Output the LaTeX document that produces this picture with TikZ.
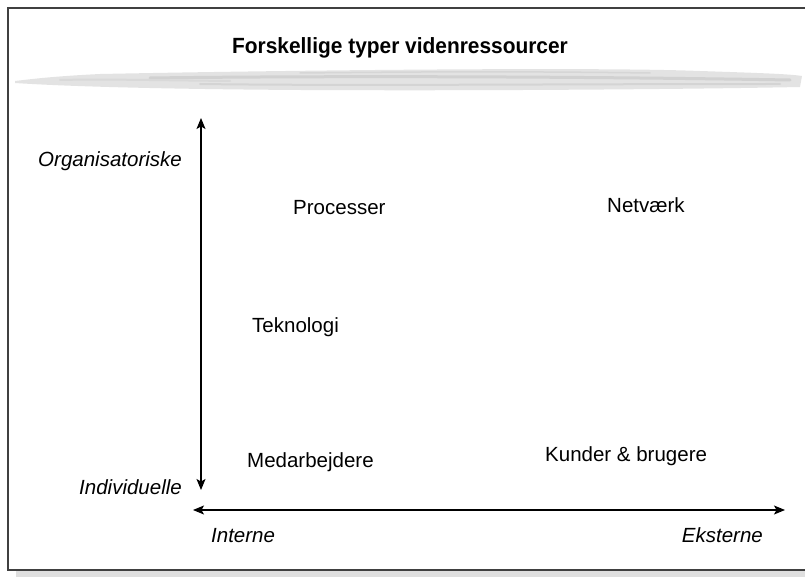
\documentclass[tikz,border=0pt]{standalone}
\usepackage{fontspec}
\setmainfont{Liberation Sans}
\newfontfamily\titlesans[FakeStretch=0.95]{Liberation Sans}
\usepackage{tikz}
\usetikzlibrary{arrows.meta}

\begin{document}
\begin{tikzpicture}[x=1pt, y=-1pt,
  >={Stealth[length=11pt, width=9pt, inset=2.5pt]},
  lbl/.style={font=\fontsize{20.5}{24}\selectfont, inner sep=0pt},
  axlbl/.style={font=\fontsize{20.5}{24}\selectfont\itshape, inner sep=0pt},
  streak/.style={line cap=round}]
  \useasboundingbox (0,0) rectangle (805,577);

  % frame and shadow
  \fill[gray!25] (16,571) rectangle (812,577);
  \draw[line width=1.5pt, black!75] (8,8) rectangle (812,570);

  % brush stroke under the title
  \fill[gray!22] (15,81) .. controls (40,78) and (60,76) .. (100,74)
    .. controls (300,70) and (600,67) .. (700,71)
    .. controls (760,73) and (790,74) .. (802,76)
    -- (800,87) .. controls (700,89) and (500,91) .. (300,90)
    .. controls (150,89) and (60,86) .. (15,83) -- cycle;
  \draw[streak, gray!36, line width=3pt] (150,78) .. controls (300,76) and (550,76) .. (790,80);
  \draw[streak, gray!34, line width=2pt] (200,84) .. controls (350,86) and (550,84) .. (780,84);
  \draw[streak, gray!30, line width=2pt] (60,80) .. controls (100,79) and (140,80) .. (230,81);
  \draw[streak, gray!32, line width=1.5pt] (300,73) .. controls (400,72) and (500,71) .. (650,73);

  \node[font=\fontsize{22}{26}\titlesans\bfseries, inner sep=0pt, anchor=base] (title) at (400,54) {Forskellige typer videnressourcer};

  % axes
  \coordinate (top) at (201,118);
  \coordinate (bot) at (201,490);
  \coordinate (lft) at (193,510);
  \coordinate (rgt) at (785,510);
  \draw[<->, line width=1.3pt] (top) -- (bot);
  \draw[<->, line width=1.3pt] (lft) -- (rgt);

  \node[axlbl, anchor=base east] (org) at (182,167) {Organisatoriske};
  \node[axlbl, anchor=base east] (ind) at (182,494) {Individuelle};
  \node[axlbl, anchor=base west] (int) at (211,542) {Interne};
  \node[axlbl, anchor=base east] (eks) at (763,542) {Eksterne};

  % resources
  \node[lbl, anchor=base west] (proc) at (293,215) {Processer};
  \node[lbl, anchor=base west] (net) at (607,213) {Netværk};
  \node[lbl, anchor=base west] (tek) at (252,332) {Teknologi};
  \node[lbl, anchor=base west] (med) at (247,467) {Medarbejdere};
  \node[lbl, anchor=base west] (kun) at (545,461) {Kunder \& brugere};
\end{tikzpicture}
\end{document}
